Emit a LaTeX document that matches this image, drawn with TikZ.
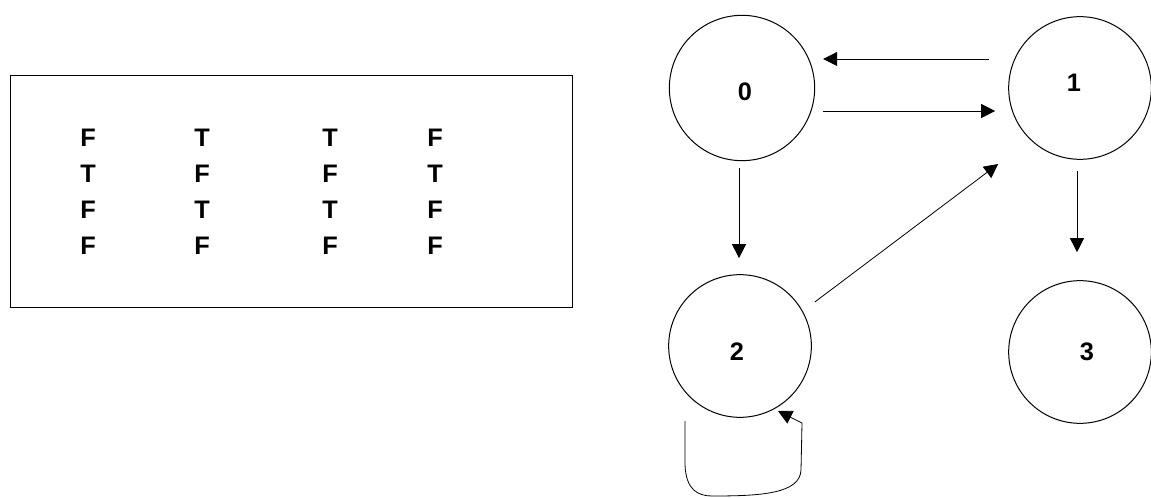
\documentclass[tikz,border=0pt]{standalone}
\usepackage{fontspec}
\setmainfont{Liberation Sans}
\usetikzlibrary{arrows.meta}
\begin{document}
\begin{tikzpicture}[x=0.75pt,y=-0.75pt,
  txt/.style={font=\bfseries\fontsize{19}{21}\selectfont,inner sep=0pt},
  state/.style={draw,line width=0.75pt,circle,minimum size=107pt,inner sep=0pt},
  cell/.style={txt},
  arr/.style={line width=0.6pt,-{Triangle[length=10.5pt,width=10.5pt]}}]
\useasboundingbox (0,0) rectangle (1151,498);
\node[draw,line width=0.75pt,minimum width=422pt,minimum height=174pt,inner sep=0pt] (box) at (291.5,192) {};
\node[cell] (a11) at (88,138) {F};
\node[cell] (a12) at (202,138) {T};
\node[cell] (a13) at (330,138) {T};
\node[cell] (a14) at (435,138) {F};
\node[cell] (a21) at (88,174) {T};
\node[cell] (a22) at (202,174) {F};
\node[cell] (a23) at (330,174) {F};
\node[cell] (a24) at (435,174) {T};
\node[cell] (a31) at (88,210) {F};
\node[cell] (a32) at (202,210) {T};
\node[cell] (a33) at (330,210) {T};
\node[cell] (a34) at (435,210) {F};
\node[cell] (a41) at (88,246) {F};
\node[cell] (a42) at (202,246) {F};
\node[cell] (a43) at (330,246) {F};
\node[cell] (a44) at (435,246) {F};
\node[state,minimum size=109pt,label={[txt,xshift=2.25pt,yshift=-3pt]center:0}] (n0) at (742,88) {};
\node[state,label={[txt,xshift=-4.5pt,yshift=3.75pt]center:1}] (n1) at (1080,88) {};
\node[state,label={[txt,xshift=-2.25pt,yshift=-4.5pt]center:2}] (n2) at (740,346) {};
\node[state,label={[txt,xshift=5.25pt,yshift=0pt]center:3}] (n3) at (1080,352) {};
\draw[arr] ([shift={(-19,-29)}]n1.west) -- ([shift={(8,-29)}]n0.east);
\draw[arr] ([shift={(8,23)}]n0.east) -- ([shift={(-13,23)}]n1.west);
\draw[arr] ([shift={(-3,7)}]n0.south) -- ([shift={(-1,-16)}]n2.north);
\draw[arr] ([shift={(-3,11)}]n1.south) -- ([shift={(-3,-28)}]n3.north);
\draw[arr] ([shift={(3,-44)}]n2.east) -- ([shift={(-10,76)}]n1.west);
\coordinate (ls) at ([shift={(-55,75)}]n2.center);
\coordinate (le) at ([shift={(38,65)}]n2.center);
\draw[arr] (ls) -- (685,465) .. controls (686,490) and (698,496) .. (712,496)
  .. controls (760,496) and (800,494) .. (801,470) -- (802,423) -- (le);
\end{tikzpicture}
\end{document}
